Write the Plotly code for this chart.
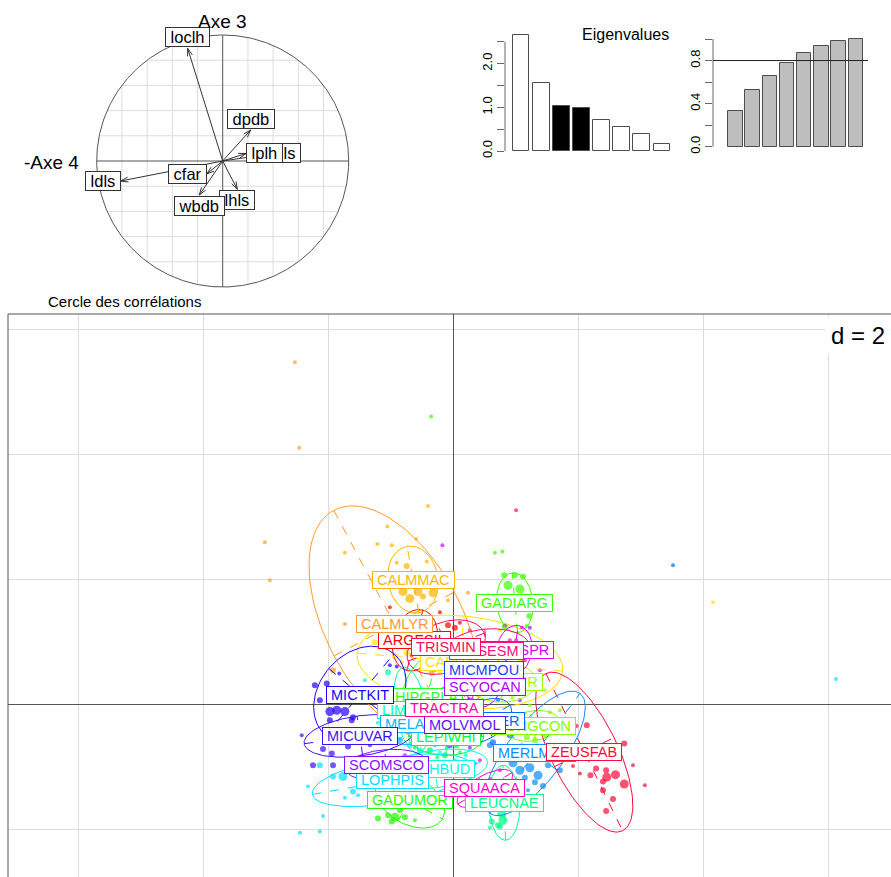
import numpy as np
import plotly.graph_objects as go

FIG_W, FIG_H = 891, 877

# ---------------------------------------------------------------- data
# Correlation circle: variable loadings (horizontal = -Axe 4, vertical = Axe 3)
var_names = ["lhls", "ls", "ldls", "lplh", "loclh", "dpdb", "wbdb", "cfar"]
var_x = [0.116, 0.44, -0.81, 0.186, -0.278, 0.222, -0.186, -0.127]
var_y = [-0.225, 0.066, -0.159, 0.060, 0.894, 0.246, -0.270, -0.103]

# Eigenvalues of the PCA and the two axes displayed
eigenvalues = [2.65, 1.56, 1.04, 0.98, 0.71, 0.54, 0.38, 0.15]
shown_axes = [3, 4]
cum_threshold = 0.8

# Species classes (label / ellipse centre = class mean)
species = ["ARGESIL", "CALMLYR", "CALMMAC", "CAPRAPE", "CONGCON", "EUTRGUR",
           "GADIARG", "GADUMOR", "HIPGPLA", "LEPIWHI", "LEUCNAE", "LIMDLIM",
           "LOPHBUD", "LOPHPIS", "MELAEGL", "MERLMCC", "MERLMER", "MICMPOU",
           "MICTKIT", "MICUVAR", "MOLVMOL", "SCOMSCO", "SCYOCAN", "SPRASPR",
           "SQUAACA", "TRACTRA", "TRISESM", "TRISMIN", "ZEUSFAB"]
species_colors = ["#FF0000", "#FF9A2E", "#FFB400", "#FFE200", "#80FF00", "#A0FF00",
                  "#3CFF00", "#1EFF00", "#2EFF2E", "#00FF44", "#00FF88", "#00FFB4",
                  "#00FFE8", "#00E0FF", "#00B8FF", "#0A8CFF", "#0068FF", "#1A40FF",
                  "#2200FF", "#3C10FF", "#6010FF", "#8A10FF", "#B000FF", "#DD00FF",
                  "#FF00D2", "#FF00A4", "#FF0A80", "#FF0A5A", "#FF0A3C"]
center_x = [-0.61, -0.94, -0.64, 0.11, 1.28, 0.78, 0.99, -0.69, -0.42, -0.11,
            0.82, -0.67, -0.29, -0.97, -0.53, 1.31, 0.48, 0.50, -1.49, -1.49,
            0.19, -1.07, 0.51, 0.98, 0.51, -0.14, 0.54, -0.11, 2.10]
center_y = [1.02, 1.28, 1.99, 0.67, -0.35, 0.35, 1.62, -1.54, 0.11, -0.52,
            -1.58, -0.10, -1.04, -1.22, -0.32, -0.79, -0.27, 0.54, 0.15, -0.51,
            -0.33, -0.98, 0.27, 0.86, -1.35, -0.06, 0.85, 0.91, -0.77]
# inertia ellipses: semi-axes and orientation (degrees) of the major axis
ell_a = [0.50, 2.06, 0.54, 1.65, 0.43, 0.56, 0.48, 0.60, 0.70, 0.60,
         0.60, 0.70, 0.85, 1.30, 0.60, 1.20, 0.50, 0.45, 0.85, 0.90,
         0.40, 0.65, 0.35, 0.40, 0.50, 0.50, 0.70, 0.65, 1.40]
ell_b = [0.35, 1.09, 0.40, 0.74, 0.24, 0.32, 0.29, 0.38, 0.40, 0.30,
         0.25, 0.25, 0.30, 0.36, 0.30, 0.45, 0.30, 0.25, 0.65, 0.32,
         0.20, 0.25, 0.25, 0.28, 0.20, 0.30, 0.35, 0.40, 0.53]
ell_angle = [75, -62, 100, -5, 10, 0, 95, -30, 75, 0,
             92, 100, 8, 10, 15, 53, 30, 0, 50, 8,
             0, 5, 60, 80, 30, 30, 5, 20, -64]

# Stations (x, y, weight) for each species
pts_ARGESIL = [(-0.08, 1.26, 2), (0.03, 1.22, 2), (0.11, 1.30, 1), (-0.85, 1.38, 1),
               (-0.58, 1.22, 1), (-1.01, 1.55, 1), (-0.21, 1.47, 1), (-0.88, 0.99, 2),
               (-0.66, 0.78, 1)]
pts_CALMLYR = [(-2.53, 5.47, 1), (-2.46, 4.10, 1), (-3.01, 2.59, 1), (-2.93, 1.98, 1),
               (-1.73, 1.28, 1), (-1.92, 0.54, 2), (0.24, 1.78, 1), (0.30, 0.78, 1),
               (-0.34, 0.50, 2)]
pts_CALMMAC = [(-0.80, 1.80, 3), (-0.69, 1.69, 3), (-0.56, 1.80, 3), (-0.48, 1.72, 2),
               (-0.32, 1.78, 3), (-0.74, 2.21, 2), (-0.42, 2.28, 1), (-0.90, 2.26, 1),
               (-0.98, 2.54, 1), (-1.21, 2.56, 1), (-1.73, 2.42, 1), (-0.59, 2.64, 1),
               (-0.40, 3.17, 1), (-1.05, 2.84, 1), (-0.08, 1.66, 1)]
pts_CAPRAPE = [(-1.25, 0.99, 2), (-0.93, 0.77, 2), (-0.74, 0.82, 2), (-0.82, 0.67, 1),
               (-0.45, 0.58, 1), (-0.21, 0.51, 1), (0.43, 0.62, 1), (1.07, 0.70, 1),
               (4.16, 1.63, 1), (0.03, 0.22, 1), (0.75, 1.18, 1)]
pts_CONGCON = [(1.18, -0.53, 2), (1.31, -0.58, 2), (1.47, -0.51, 1), (1.55, -0.13, 1),
               (1.71, -0.10, 1), (1.07, -0.42, 1), (1.30, -0.40, 2), (0.95, -0.45, 1)]
pts_EUTRGUR = [(1.23, -0.02, 1), (1.47, 0.22, 1), (0.43, 0.14, 1), (0.95, 0.10, 1),
               (1.15, -0.15, 1)]
pts_GADIARG = [(0.82, 2.06, 2), (0.88, 1.90, 3), (1.07, 1.84, 3), (1.12, 2.04, 2),
               (0.99, 2.06, 2), (0.83, 1.24, 2), (1.22, 1.41, 2), (0.67, 2.42, 1),
               (0.79, 2.44, 1), (1.18, 1.25, 1), (-0.35, 4.60, 1)]
pts_GADUMOR = [(-1.20, -1.83, 2), (-1.04, -1.78, 2), (-0.93, -1.81, 3), (-0.77, -1.81, 2),
               (-0.98, -1.88, 2), (-0.85, -1.70, 2), (-0.61, -1.86, 1), (-0.90, -1.64, 1)]
pts_HIPGPLA = [(-0.77, 0.06, 1), (-0.53, 0.22, 1), (-0.29, 0.54, 1), (-0.60, -0.15, 1),
               (-0.30, 0.00, 1)]
pts_LEPIWHI = [(-0.37, -0.74, 2), (-0.13, -0.82, 2), (0.11, -0.77, 1), (-0.61, -0.70, 1),
               (-0.50, -0.62, 2), (-0.25, -0.85, 1), (0.05, -0.66, 2), (0.35, -0.60, 1),
               (-0.80, -0.35, 1)]
pts_LEUCNAE = [(0.78, -1.75, 3), (0.80, -1.86, 3), (0.72, -1.94, 2), (0.62, -1.88, 2),
               (0.70, -1.67, 2), (0.75, -1.96, 2), (0.59, -1.98, 1)]
pts_LIMDLIM = [(-1.30, 0.22, 1), (-1.17, -0.02, 1), (-1.04, 0.51, 2), (-1.41, 0.38, 1),
               (-1.20, -0.30, 1), (-0.90, -0.20, 1)]
pts_LOPHBUD = [(-0.69, -0.66, 2), (-0.53, -0.74, 2), (-0.21, -0.77, 1), (0.03, -0.90, 1),
               (-1.09, -0.90, 1), (-0.85, -0.55, 1), (-0.40, -0.62, 2), (-0.10, -0.70, 1),
               (0.20, -0.82, 1)]
pts_LOPHPIS = [(-1.76, -1.16, 3), (-1.60, -1.40, 2), (-2.32, -1.32, 1), (-2.08, -1.79, 1),
               (-2.13, -2.04, 1), (-1.92, -1.16, 2), (-1.73, -1.50, 1), (-1.52, -1.46, 1),
               (-2.45, -2.06, 1), (6.13, 0.40, 1), (-2.13, -0.98, 2)]
pts_MELAEGL = [(-0.85, -0.58, 2), (-0.53, -0.61, 2), (-0.29, -0.66, 1), (-0.70, -0.45, 1),
               (-0.40, -0.50, 1), (0.00, -0.45, 1), (0.30, -0.40, 1)]
pts_MERLMCC = [(0.96, -0.94, 3), (1.07, -1.06, 3), (1.15, -1.18, 2), (1.23, -1.02, 3),
               (1.36, -1.14, 3), (1.44, -1.31, 2), (1.20, -1.38, 1), (1.52, -0.98, 2),
               (1.71, -1.06, 2), (1.31, -1.25, 2), (0.59, -0.66, 2), (1.47, -0.90, 1)]
pts_MERLMER = [(0.72, 0.06, 1), (0.91, -0.50, 2), (0.64, -0.61, 2), (3.52, 2.22, 1),
               (0.60, -0.35, 1), (0.80, -0.25, 2), (1.00, -0.30, 1)]
pts_MICMPOU = [(0.11, 0.06, 1), (1.07, 0.86, 1), (0.27, 0.22, 1)]
pts_MICTKIT = [(-2.21, 0.30, 2), (-2.02, 0.33, 2), (-1.82, 0.49, 1), (-0.90, 0.60, 1),
               (-1.01, 0.62, 1), (-1.97, -0.12, 3), (-1.86, -0.10, 3), (-1.73, -0.12, 3),
               (-1.97, -0.26, 2), (-1.62, -0.26, 2), (-1.60, -0.21, 2), (-2.13, 0.06, 2),
               (-1.81, 0.06, 3)]
pts_MICUVAR = [(-2.42, -0.50, 1), (-2.24, -0.98, 2), (-2.08, -0.72, 2), (-1.94, -0.79, 2),
               (-1.68, -0.68, 2), (-1.92, -0.98, 2), (-1.33, -0.66, 1), (-0.93, -0.58, 2)]
pts_MOLVMOL = [(0.03, -0.61, 2), (0.43, -0.50, 1), (-0.10, -0.55, 2), (0.20, -0.62, 2),
               (0.55, -0.45, 1)]
pts_SCOMSCO = [(-0.24, -0.61, 2), (-0.05, -0.66, 2), (0.14, -0.58, 2), (0.27, -0.70, 1),
               (-0.45, -0.51, 1), (-0.77, -0.82, 1), (0.05, -0.50, 2), (0.35, -0.55, 2)]
pts_SCYOCAN = [(1.23, 1.22, 1), (1.07, 0.06, 1), (0.27, 0.06, 2)]
pts_SPRASPR = [(1.10, 1.22, 1), (1.01, 1.02, 1), (0.83, 1.26, 1), (-0.17, 2.54, 1),
               (1.39, 0.54, 1)]
pts_SQUAACA = [(0.43, -0.90, 1), (0.27, -1.22, 1), (0.75, -1.06, 1), (0.35, -0.95, 1),
               (0.60, -1.20, 1)]
pts_TRACTRA = [(0.03, 0.06, 1), (-0.21, 0.14, 1), (-0.37, -0.13, 1), (0.10, -0.20, 1),
               (0.20, 0.20, 1)]
pts_TRISESM = [(0.91, 1.02, 1), (1.15, 0.70, 1), (0.27, 0.78, 1), (0.75, 0.61, 1),
               (1.31, 0.94, 1), (1.01, 3.10, 1)]
pts_TRISMIN = [(0.14, 0.99, 1), (0.43, 0.86, 1), (-0.21, 0.70, 1), (0.27, 1.18, 1),
               (-0.37, 1.02, 1), (0.03, 0.70, 2)]
pts_ZEUSFAB = [(2.14, -0.34, 2), (1.98, -0.35, 1), (2.74, -0.63, 2), (2.29, -1.03, 2),
               (2.45, -1.06, 2), (2.60, -1.13, 3), (2.46, -1.17, 3), (2.74, -1.28, 3),
               (2.40, -1.24, 2), (2.03, -1.11, 1), (2.20, -1.14, 2), (2.40, -1.38, 2),
               (2.56, -1.52, 2), (2.45, -1.71, 2), (3.07, -1.30, 1), (1.92, -0.99, 1),
               (2.88, -0.98, 1)]

species_points = [pts_ARGESIL, pts_CALMLYR, pts_CALMMAC, pts_CAPRAPE, pts_CONGCON,
                  pts_EUTRGUR, pts_GADIARG, pts_GADUMOR, pts_HIPGPLA, pts_LEPIWHI,
                  pts_LEUCNAE, pts_LIMDLIM, pts_LOPHBUD, pts_LOPHPIS, pts_MELAEGL,
                  pts_MERLMCC, pts_MERLMER, pts_MICMPOU, pts_MICTKIT, pts_MICUVAR,
                  pts_MOLVMOL, pts_SCOMSCO, pts_SCYOCAN, pts_SPRASPR, pts_SQUAACA,
                  pts_TRACTRA, pts_TRISESM, pts_TRISMIN, pts_ZEUSFAB]

grid_step = 2

# ---------------------------------------------------------------- layout helpers
FONT = "Liberation Sans, Arial, sans-serif"
AXIS_GREY = "#555555"
GRID_GREY = "#DCDCDC"


def px_to_paper_x(p):
    return p / FIG_W


def px_to_paper_y(p):
    return 1 - p / FIG_H


def x_range(p0, p1, origin, scale):
    return [(p0 - origin) / scale, (p1 - origin) / scale]


def y_range(top, bottom, origin, scale):
    return [(origin - bottom) / scale, (origin - top) / scale]


fig = go.Figure()
shapes = []
annotations = []

# ---------------------------------------------------------------- main scatter (s.class)
MAIN_L, MAIN_T, MAIN_R, MAIN_B = 8, 314, 891, 877
ORIG_X, ORIG_Y, UNIT = 453, 704, 62.5

size_of_weight = {1: 4, 2: 6, 3: 9}
t = np.linspace(0, 2 * np.pi, 121)

for k, name in enumerate(species):
    pts = species_points[k]
    fig.add_trace(go.Scatter(
        x=[p[0] for p in pts], y=[p[1] for p in pts], mode="markers",
        marker=dict(color=species_colors[k], size=[size_of_weight[p[2]] for p in pts],
                    line=dict(width=0)),
        xaxis="x", yaxis="y", showlegend=False, hoverinfo="skip"))

for k, name in enumerate(species):
    cx, cy = center_x[k], center_y[k]
    a, b = ell_a[k], ell_b[k]
    th = np.deg2rad(ell_angle[k])
    ex = cx + a * np.cos(t) * np.cos(th) - b * np.sin(t) * np.sin(th)
    ey = cy + a * np.cos(t) * np.sin(th) + b * np.sin(t) * np.cos(th)
    fig.add_trace(go.Scatter(x=ex, y=ey, mode="lines",
                             line=dict(color=species_colors[k], width=1),
                             xaxis="x", yaxis="y", showlegend=False, hoverinfo="skip"))
    ux, uy = np.cos(th), np.sin(th)
    vx, vy = -np.sin(th), np.cos(th)
    axx = [cx - a * ux, cx + a * ux, None, cx - b * vx, cx + b * vx]
    axy = [cy - a * uy, cy + a * uy, None, cy - b * vy, cy + b * vy]
    fig.add_trace(go.Scatter(x=axx, y=axy, mode="lines",
                             line=dict(color=species_colors[k], width=1, dash="dash"),
                             xaxis="x", yaxis="y", showlegend=False, hoverinfo="skip"))

NB = "\u00a0"
for k, name in enumerate(species):
    annotations.append(dict(
        x=center_x[k], y=center_y[k], xref="x", yref="y", text=NB + name + NB,
        showarrow=False, font=dict(family=FONT, size=14.5, color=species_colors[k]),
        bgcolor="white", bordercolor=species_colors[k], borderwidth=1, borderpad=0,
        xanchor="center", yanchor="middle"))

# frame (left and top edges are inside the window)
shapes.append(dict(type="line", xref="paper", yref="paper",
                   x0=px_to_paper_x(MAIN_L), x1=px_to_paper_x(MAIN_L),
                   y0=0, y1=px_to_paper_y(MAIN_T), line=dict(color=AXIS_GREY, width=1)))
shapes.append(dict(type="line", xref="paper", yref="paper",
                   x0=px_to_paper_x(MAIN_L), x1=1,
                   y0=px_to_paper_y(MAIN_T), y1=px_to_paper_y(MAIN_T),
                   line=dict(color=AXIS_GREY, width=1)))

annotations.append(dict(x=1, y=px_to_paper_y(316), xref="paper", yref="paper",
                        text=f"d = {grid_step}", showarrow=False, xanchor="right",
                        yanchor="top", font=dict(family=FONT, size=24, color="black"),
                        bgcolor="white", borderpad=5))

main_xr = x_range(MAIN_L, MAIN_R, ORIG_X, UNIT)
main_yr = y_range(MAIN_T, MAIN_B, ORIG_Y, UNIT)
grid_x = list(np.arange(np.ceil(main_xr[0] / grid_step), np.floor(main_xr[1] / grid_step) + 1) * grid_step)
grid_y = list(np.arange(np.ceil(main_yr[0] / grid_step), np.floor(main_yr[1] / grid_step) + 1) * grid_step)

# ---------------------------------------------------------------- correlation circle
C_X, C_Y, C_R = 222.7, 161, 126
CC_L, CC_R, CC_T, CC_B = 20, 360, 0, 310

grid_vals = [-0.8, -0.6, -0.4, -0.2, 0.2, 0.4, 0.6, 0.8]
gx, gy = [], []
for v in grid_vals:
    h = np.sqrt(1 - v * v)
    gx += [v, v, None, -h, h, None]
    gy += [-h, h, None, v, v, None]
fig.add_trace(go.Scatter(x=gx, y=gy, mode="lines", line=dict(color=GRID_GREY, width=1),
                         xaxis="x2", yaxis="y2", showlegend=False, hoverinfo="skip"))
fig.add_trace(go.Scatter(x=[-1, 1, None, 0, 0], y=[0, 0, None, -1, 1], mode="lines",
                         line=dict(color=AXIS_GREY, width=1),
                         xaxis="x2", yaxis="y2", showlegend=False, hoverinfo="skip"))
circ = np.linspace(0, 2 * np.pi, 361)
fig.add_trace(go.Scatter(x=np.cos(circ), y=np.sin(circ), mode="lines",
                         line=dict(color=AXIS_GREY, width=1),
                         xaxis="x2", yaxis="y2", showlegend=False, hoverinfo="skip"))

head_len = 8 / C_R
head_ang = np.deg2rad(18)
arx, ary = [], []
for vx_, vy_ in zip(var_x, var_y):
    n = np.hypot(vx_, vy_)
    dx, dy = vx_ / n, vy_ / n
    arx += [0, vx_, None]
    ary += [0, vy_, None]
    for s in (1, -1):
        ca, sa = np.cos(s * head_ang), np.sin(s * head_ang)
        rx, ry = dx * ca - dy * sa, dx * sa + dy * ca
        arx += [vx_, vx_ - head_len * rx, None]
        ary += [vy_, vy_ - head_len * ry, None]
fig.add_trace(go.Scatter(x=arx, y=ary, mode="lines", line=dict(color="#333333", width=1),
                         xaxis="x2", yaxis="y2", showlegend=False, hoverinfo="skip"))

# label boxes placed outside the arrow tips (quadrant rule)
ARIAL_W = {"l": .222, "s": .5, "d": .556, "h": .556, "p": .556, "o": .556, "c": .5,
           "b": .556, "w": .722, "f": .278, "a": .556, "r": .333}
CC_FONT = 16.5
for name, vx_, vy_ in zip(var_names, var_x, var_y):
    wpx = (sum(ARIAL_W.get(ch, .556) for ch in name) + 0.556) * CC_FONT + 2
    half_w = wpx / 2 / C_R
    yh = 11 / C_R
    if vx_ > vy_ and vx_ > -vy_:
        lx, ly = vx_ + half_w, vy_
    elif vx_ > vy_ and vx_ <= -vy_:
        lx, ly = vx_, vy_ - yh
    elif vx_ <= vy_ and vx_ <= -vy_:
        lx, ly = vx_ - half_w, vy_
    else:
        lx, ly = vx_, vy_ + yh
    annotations.append(dict(x=lx, y=ly, xref="x2", yref="y2", text=NB + name + NB,
                            showarrow=False, font=dict(family=FONT, size=CC_FONT, color="black"),
                            bgcolor="white", bordercolor="#333333", borderwidth=1, borderpad=0,
                            xanchor="center", yanchor="middle"))

annotations.append(dict(x=px_to_paper_x(222), y=px_to_paper_y(21), xref="paper", yref="paper",
                        text="Axe 3", showarrow=False, xanchor="center", yanchor="middle",
                        font=dict(family=FONT, size=19, color="black")))
annotations.append(dict(x=px_to_paper_x(81), y=px_to_paper_y(162), xref="paper", yref="paper",
                        text="-Axe 4", showarrow=False, xanchor="right", yanchor="middle",
                        font=dict(family=FONT, size=19, color="black")))
annotations.append(dict(x=px_to_paper_x(46), y=px_to_paper_y(301), xref="paper", yref="paper",
                        text="Cercle des corrélations", showarrow=False, xanchor="left",
                        yanchor="middle", font=dict(family=FONT, size=15, color="black")))

# ---------------------------------------------------------------- eigenvalue bar plots
ev = np.array(eigenvalues)
bar_pos = list(range(1, len(ev) + 1))
bar_fill = ["black" if i in shown_axes else "white" for i in bar_pos]
fig.add_trace(go.Bar(x=bar_pos, y=eigenvalues, width=0.84, marker=dict(
    color=bar_fill, line=dict(color="#4D4D4D", width=1)),
    xaxis="x3", yaxis="y3", showlegend=False, hoverinfo="skip"))
cum_share = list(np.cumsum(ev) / ev.sum())
fig.add_trace(go.Bar(x=bar_pos, y=cum_share, width=0.84, marker=dict(
    color="#BEBEBE", line=dict(color="#4D4D4D", width=1)),
    xaxis="x4", yaxis="y4", showlegend=False, hoverinfo="skip"))

EV_L, EV_R, EV_T, EV_B = 505, 680, 28, 160
EV_X0, EV_PITCH, EV_Y0, EV_SCALE = 521, 20.14, 151, 43.72
CU_L, CU_R, CU_T, CU_B = 713, 880, 30, 155
CU_X0, CU_PITCH, CU_Y0, CU_SCALE = 735.5, 17.19, 146.7, 107.7

ev_ticks = [0, 0.5, 1.0, 1.5, 2.0, 2.5]
cu_ticks = [0, 0.2, 0.4, 0.6, 0.8, 1.0]

shapes.append(dict(type="line", xref="x3 domain", yref="y3", x0=0, x1=0,
                   y0=ev_ticks[0], y1=ev_ticks[-1], line=dict(color="#666666", width=1)))
shapes.append(dict(type="line", xref="x4 domain", yref="y4", x0=0, x1=0,
                   y0=cu_ticks[0], y1=cu_ticks[-1], line=dict(color="#666666", width=1)))
shapes.append(dict(type="line", xref="x4 domain", yref="y4", x0=0, x1=(868 - CU_L) / (CU_R - CU_L),
                   y0=cum_threshold, y1=cum_threshold, line=dict(color="#222222", width=1)))

annotations.append(dict(x=px_to_paper_x(625), y=px_to_paper_y(35), xref="paper", yref="paper",
                        text="Eigenvalues", showarrow=False, xanchor="center", yanchor="middle",
                        font=dict(family=FONT, size=16, color="black")))


def bar_xrange(l, r, x0, pitch):
    return [1 + (l - x0) / pitch, 1 + (r - x0) / pitch]


hidden = dict(showgrid=False, zeroline=False, showticklabels=False, ticks="", showline=False)

fig.update_layout(
    width=FIG_W, height=FIG_H, autosize=False,
    margin=dict(l=0, r=0, t=0, b=0, pad=0),
    paper_bgcolor="white", plot_bgcolor="white",
    shapes=shapes, annotations=annotations, bargap=0,
    xaxis=dict(domain=[px_to_paper_x(MAIN_L), 1], range=main_xr, anchor="y",
               tickvals=grid_x, showticklabels=False, ticks="", showgrid=True,
               gridcolor=GRID_GREY, gridwidth=1, zeroline=True, zerolinecolor=AXIS_GREY,
               zerolinewidth=1, showline=False, fixedrange=True),
    yaxis=dict(domain=[0, px_to_paper_y(MAIN_T)], range=main_yr, anchor="x",
               tickvals=grid_y, showticklabels=False, ticks="", showgrid=True,
               gridcolor=GRID_GREY, gridwidth=1, zeroline=True, zerolinecolor=AXIS_GREY,
               zerolinewidth=1, showline=False, fixedrange=True),
    xaxis2=dict(domain=[px_to_paper_x(CC_L), px_to_paper_x(CC_R)],
                range=x_range(CC_L, CC_R, C_X, C_R), anchor="y2", **hidden),
    yaxis2=dict(domain=[px_to_paper_y(CC_B), px_to_paper_y(CC_T)],
                range=y_range(CC_T, CC_B, C_Y, C_R), anchor="x2", **hidden),
    xaxis3=dict(domain=[px_to_paper_x(EV_L), px_to_paper_x(EV_R)],
                range=bar_xrange(EV_L, EV_R, EV_X0, EV_PITCH), anchor="y3", **hidden),
    yaxis3=dict(domain=[px_to_paper_y(EV_B), px_to_paper_y(EV_T)],
                range=y_range(EV_T, EV_B, EV_Y0, EV_SCALE), anchor="x3",
                showgrid=False, zeroline=False, showline=False,
                tickvals=ev_ticks, ticktext=["0.0", "", "1.0", "", "2.0", ""],
                ticks="outside", ticklen=7, tickcolor="#666666", tickangle=-90,
                tickfont=dict(family=FONT, size=13, color="black")),
    xaxis4=dict(domain=[px_to_paper_x(CU_L), px_to_paper_x(CU_R)],
                range=bar_xrange(CU_L, CU_R, CU_X0, CU_PITCH), anchor="y4", **hidden),
    yaxis4=dict(domain=[px_to_paper_y(CU_B), px_to_paper_y(CU_T)],
                range=y_range(CU_T, CU_B, CU_Y0, CU_SCALE), anchor="x4",
                showgrid=False, zeroline=False, showline=False,
                tickvals=cu_ticks, ticktext=["0.0", "", "0.4", "", "0.8", ""],
                ticks="outside", ticklen=7, tickcolor="#666666", tickangle=-90,
                tickfont=dict(family=FONT, size=13, color="black")),
)

fig.write_html("out.html")
